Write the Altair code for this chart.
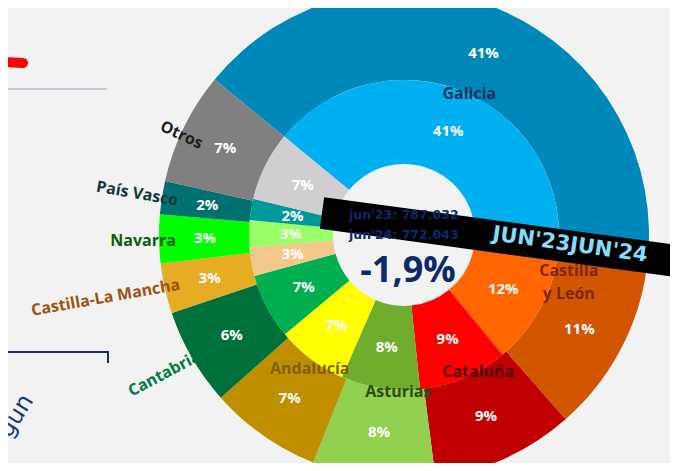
import math
import altair as alt
import pandas as pd

# ---------------- data ----------------
regions = ["Galicia", "Castilla y León", "Cataluña", "Asturias", "Andalucía",
           "Cantabria", "Castilla-La Mancha", "Navarra", "País Vasco", "Otros"]
share_jun23 = [40.9, 12.2, 9.3, 8.2, 7.4, 6.8, 3.0, 2.8, 2.2, 7.2]   # inner ring
share_jun24 = [41.2, 11.4, 9.4, 8.1, 7.4, 6.4, 3.3, 3.2, 2.2, 7.4]   # outer ring
colors_jun23 = ["#00B0F0", "#FF6600", "#FF0000", "#70AD2F", "#FFFF00",
                "#00B050", "#F2C98A", "#99FF66", "#009999", "#D0CECE"]
colors_jun24 = ["#0088BB", "#D25500", "#C00000", "#92D050", "#BF8F00",
                "#00703A", "#E5AC24", "#00FF00", "#007070", "#808080"]
total_jun23 = "jun'23: 787.032"
total_jun24 = "jun'24: 772.043"
change_text = "-1,9%"
banner_text = "JUN'23JUN'24"

# ---------------- geometry / style ----------------
W, H = 662, 455
CX, CY = 396, 227
A0 = math.radians(-50.6)
R_HOLE, R_MID, R_OUT = 71, 155, 245
FONT = "Open Sans"

keys23 = [r + " 23" for r in regions]
keys24 = [r + " 24" for r in regions]
df23 = pd.DataFrame({"order": range(len(regions)), "region": regions,
                     "share": share_jun23, "key": keys23})
df24 = pd.DataFrame({"order": range(len(regions)), "region": regions,
                     "share": share_jun24, "key": keys24})

theta_scale = alt.Scale(domain=[0, 100], range=[A0, A0 + 2 * math.pi])
color_scale = alt.Scale(domain=keys23 + keys24, range=colors_jun23 + colors_jun24)
cx = alt.value(CX)
cy = alt.value(CY)


def ring(df):
    return alt.Chart(df).transform_window(
        cum="sum(share)", sort=[alt.SortField("order")], frame=[None, 0]
    ).transform_calculate(
        start="datum.cum - datum.share",
        mid="datum.cum - datum.share / 2",
        label="round(datum.share) + '%'",
    )


def arcs(df, r_in, r_out):
    return ring(df).mark_arc(radius=r_out, radius2=r_in).encode(
        theta=alt.Theta("start:Q", scale=theta_scale, stack=None),
        theta2=alt.Theta2("cum:Q"),
        color=alt.Color("key:N", scale=color_scale, legend=None),
        x=cx, y=cy,
    )


def pct(df, r):
    return ring(df).mark_text(radius=r, font=FONT, fontWeight="bold", fontSize=15,
                              color="white", baseline="middle").encode(
        theta=alt.Theta("mid:Q", scale=theta_scale, stack=None),
        text="label:N", x=cx, y=cy,
    )


def name(region, color, r, angle=0, dx=0, dy=0, text=None, size=16):
    t = alt.value(text) if text is not None else alt.Text("region:N")
    return ring(df24).transform_filter(alt.datum.region == region).mark_text(
        radius=r, angle=angle, dx=dx, dy=dy, font=FONT, fontWeight="bold",
        fontSize=size, color=color, baseline="middle", align="center",
        lineBreak="\n", lineHeight=23,
    ).encode(theta=alt.Theta("mid:Q", scale=theta_scale, stack=None),
             text=t, x=cx, y=cy)


one = alt.Data(values=[{}])

layers = [
    name("Cantabria", "#007A3D", 277, angle=332),
    arcs(df24, R_MID, R_OUT),
    arcs(df23, R_HOLE, R_MID),
    pct(df24, 199),
    pct(df23, 113),
    name("Galicia", "#0D3057", 156, dx=3, dy=2),
    name("Castilla y León", "#7F2600", 170, dx=15, dy=-44, text="Castilla\ny León"),
    name("Cataluña", "#500000", 156, dx=10, dy=-5),
    name("Asturias", "#2E4D14", 157, dx=14, dy=1),
    name("Andalucía", "#7F5F00", 164),
    name("Castilla-La Mancha", "#A0500F", 305, angle=350, dy=-4),
    name("Navarra", "#0E5C0E", 261, dy=2),
    name("País Vasco", "#113838", 270, angle=10),
    name("Otros", "#1E1E1E", 242, angle=25, dx=-2, dy=8),
    # black banner
    alt.Chart(one).mark_rule(color="black", strokeWidth=32, strokeCap="butt").encode(
        x=alt.value(314), y=alt.value(205), x2=alt.value(690), y2=alt.value(256)),
    alt.Chart(one).mark_text(font="DejaVu Sans", fontWeight="bold", fontSize=21,
                             color="#84DCF8", angle=8, align="center",
                             baseline="middle").encode(
        x=alt.value(562), y=alt.value(237), text=alt.value(banner_text)),
    # centre texts
    alt.Chart(one).mark_text(font="DejaVu Sans", fontWeight="bold", fontSize=12.5,
                             color="#0B2A6B", align="left", baseline="alphabetic").encode(
        x=alt.value(341), y=alt.value(211), text=alt.value(total_jun23)),
    alt.Chart(one).mark_text(font="DejaVu Sans", fontWeight="bold", fontSize=12.5,
                             color="#0B2A6B", align="left", baseline="alphabetic").encode(
        x=alt.value(341), y=alt.value(231), text=alt.value(total_jun24)),
    alt.Chart(one).mark_text(font=FONT, fontWeight="bold", fontSize=36,
                             color="#0B2A6B", align="center", baseline="alphabetic").encode(
        x=alt.value(400), y=alt.value(274), text=alt.value(change_text)),
    # decorations at the left
    alt.Chart(one).mark_rule(color="#FF0000", strokeWidth=10, strokeCap="round").encode(
        x=alt.value(-8), x2=alt.value(15), y=alt.value(54), y2=alt.value(55)),
    alt.Chart(one).mark_rule(color="#C3C8D8", strokeWidth=2).encode(
        x=alt.value(-8), x2=alt.value(99), y=alt.value(81), y2=alt.value(81)),
    alt.Chart(one).mark_rule(color="#1B2A6B", strokeWidth=2).encode(
        x=alt.value(-8), x2=alt.value(101), y=alt.value(344), y2=alt.value(344)),
    alt.Chart(one).mark_rule(color="#1B2A6B", strokeWidth=2).encode(
        x=alt.value(100), x2=alt.value(100), y=alt.value(343), y2=alt.value(355)),
    alt.Chart(one).mark_text(font="DejaVu Sans", fontSize=24, color="#1B3A7A",
                             angle=302, align="center", baseline="middle").encode(
        x=alt.value(8), y=alt.value(408), text=alt.value("gun")),
]

chart = alt.layer(*layers).properties(
    width=W, height=H, padding=0, autosize=alt.AutoSizeParams(type="none"),
    background="#F2F2F2",
).configure_view(strokeWidth=0)

chart.save("out.html", embed_options={"renderer": "svg", "actions": False})
